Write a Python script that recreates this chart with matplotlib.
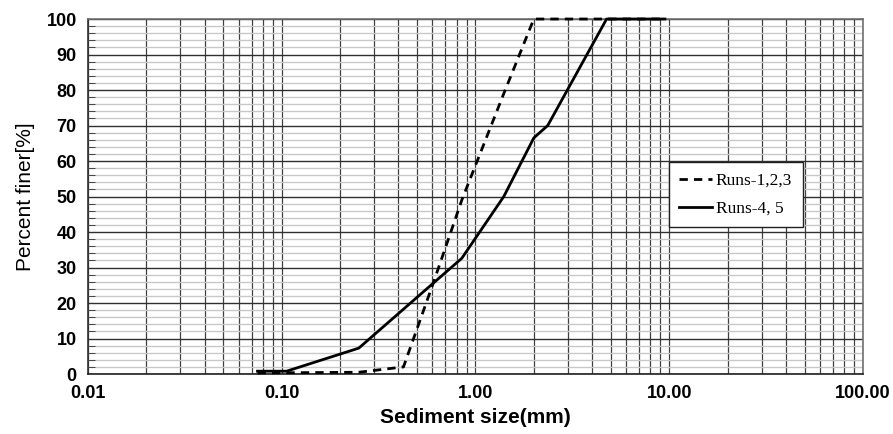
import numpy as np
import matplotlib.pyplot as plt
from matplotlib.ticker import FixedLocator, MultipleLocator, FuncFormatter

# grain size distribution (size in mm, percent finer)
size_123 = [0.075, 0.25, 0.425, 0.6, 0.85, 1.4, 2.0, 9.5]
finer_123 = [0.3, 0.5, 2.0, 25.0, 49.0, 79.0, 100.0, 100.0]

size_45 = [0.075, 0.106, 0.25, 0.85, 1.4, 2.0, 2.36, 4.75, 9.5]
finer_45 = [0.8, 0.8, 7.3, 32.6, 50.0, 66.5, 70.0, 100.0, 100.0]

x_ticks = [0.01, 0.1, 1.0, 10.0, 100.0]
x_labels = ["0.01", "0.10", "1.00", "10.00", "100.00"]

plt.rcParams['font.family'] = ['Liberation Sans Narrow', 'Liberation Sans', 'DejaVu Sans']

fig = plt.figure(figsize=(8.93, 4.34), dpi=100)
ax = fig.add_axes([0.0985, 0.1382, 0.8679, 0.818])

ax.set_xscale("log")
ax.set_xlim(0.01, 100)
ax.set_ylim(0, 100)

# grid lines
minor_x = [m * 10.0 ** e for e in range(-2, 2) for m in range(2, 10)]
ax.xaxis.set_major_locator(FixedLocator(x_ticks))
ax.xaxis.set_minor_locator(FixedLocator(minor_x))
ax.xaxis.set_major_formatter(FuncFormatter(lambda v, p: x_labels[x_ticks.index(v)] if v in x_ticks else ""))
ax.xaxis.set_minor_formatter(FuncFormatter(lambda v, p: ""))
ax.yaxis.set_major_locator(MultipleLocator(10))
ax.yaxis.set_minor_locator(MultipleLocator(2))

ax.grid(which="major", axis="y", color="#303030", lw=1.0)
ax.grid(which="minor", axis="y", color="#c8c8c8", lw=1.0)
ax.grid(which="both", axis="x", color="#404040", lw=0.9)
ax.set_axisbelow(True)

ax.tick_params(axis="x", which="both", length=0, pad=8, labelsize=13)
ax.tick_params(axis="y", which="major", length=0, pad=8, labelsize=13)
ax.tick_params(axis="y", which="minor", direction="in", length=5, color="#303030")
for lab in ax.get_xticklabels() + ax.get_yticklabels():
    lab.set_fontweight("bold")

for s in ax.spines.values():
    s.set_color("#707070")
    s.set_linewidth(1.2)
ax.spines["left"].set_color("#303030")
ax.spines["bottom"].set_color("#202020")

ax.plot(size_123, finer_123, color="black", lw=2.0, ls=(0, (3, 2.2)), label="Runs-1,2,3",
        zorder=3, clip_on=False)
ax.plot(size_45, finer_45, color="black", lw=2.0, label="Runs-4, 5", zorder=3, clip_on=False)

ax.set_xlabel("Sediment size(mm)", fontsize=15, fontweight="bold", labelpad=4)
ax.set_ylabel("Percent finer[%]", fontsize=15, labelpad=8)

leg = ax.legend(loc="upper left", bbox_to_anchor=(0.7497, 0.597), borderaxespad=0, frameon=True,
                fancybox=False, prop={"family": "Liberation Serif", "size": 12.5}, handlelength=1.9,
                handletextpad=0.2, borderpad=0.6, labelspacing=0.7, framealpha=1)
leg.get_frame().set_edgecolor("#202020")
leg.get_frame().set_linewidth(1.0)

plt.savefig("out.png", dpi=100)
